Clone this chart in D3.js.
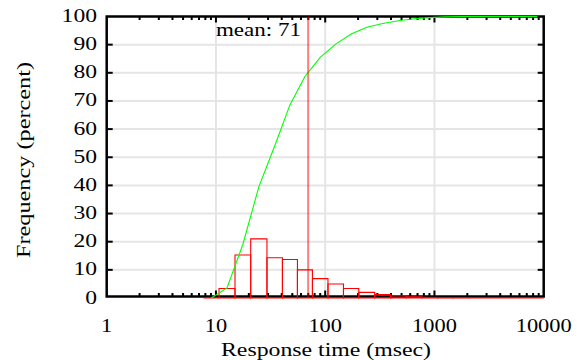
<!DOCTYPE html>
<html><head><meta charset="utf-8">
<script src="https://cdn.jsdelivr.net/npm/d3@7"></script>
<style>
body{margin:0;background:#fff}
svg{display:block}
text{font-family:"Liberation Serif","DejaVu Serif","Noto Serif","Times New Roman",serif;fill:#000}
</style>
</head><body>
<svg id="chart" width="582" height="360"></svg>
<script>
// ---- data ----
const binEdges = [7.7, 10.67, 14.94, 20.8, 29.3, 40.6, 55.7, 76.4, 106, 147, 203, 284, 398, 553, 768, 1067, 1483, 2060, 2862, 3977, 5525, 7677, 10000];
const histPercent = [0, 3.4, 15.3, 21.0, 14.3, 13.7, 10.0, 6.9, 5.0, 3.4, 2.0, 1.2, 0.7, 0.4, 0.2, 0.1, 0.1, 0, 0, 0, 0, 0];
const cdfPercent = [0, 3.6, 19, 39.5, 54, 68.6, 78.7, 85.5, 90.2, 93.8, 96.2, 97.5, 98.5, 99.2, 99.6, 99.85, 100, 100, 100, 100, 100, 100];
const xTickValues = [1, 10, 100, 1000, 10000];
const xTickLabels = ["1", "10", "100", "1000", "10000"];
const yTickValues = [0, 10, 20, 30, 40, 50, 60, 70, 80, 90, 100];
const yTickLabels = ["0", "10", "20", "30", "40", "50", "60", "70", "80", "90", "100"];
const meanValue = 71;
const meanLabel = "mean: 71";
const xTitle = "Response time (msec)";
const yTitle = "Frequency (percent)";

// ---- drawing ----
const svg = d3.select("#chart");
const L = 106.7, R = 543.7, T = 16.5, B = 298;
const x = d3.scaleLog().domain([1, 10000]).range([L, R]);
const y = d3.scaleLinear().domain([0, 100]).range([B, T]);
const frameBottom = 296.5;

// grid
const grid = svg.append("g").attr("stroke", "#e5e5e5").attr("stroke-width", 2);
grid.selectAll("line.gx").data(xTickValues.slice(1, -1)).join("line")
  .attr("x1", d => x(d)).attr("x2", d => x(d)).attr("y1", T).attr("y2", frameBottom);
grid.selectAll("line.gy").data(yTickValues.slice(1, -1)).join("line")
  .attr("x1", L).attr("x2", R).attr("y1", d => y(d)).attr("y2", d => y(d));

// frame + ticks
const fr = svg.append("g").attr("stroke", "#000").attr("fill", "none");
fr.append("rect").attr("x", L).attr("y", T).attr("width", R - L).attr("height", frameBottom - T).attr("stroke-width", 2.5);
const allX = x.ticks().filter(d => d > 1 && d < 10000);
const isMajor = d => Math.abs(Math.log10(d) - Math.round(Math.log10(d))) < 1e-9;
allX.forEach(d => {
  const len = isMajor(d) ? 6 : 3.5;
  fr.append("line").attr("x1", x(d)).attr("x2", x(d)).attr("y1", T).attr("y2", T + len).attr("stroke-width", 2);
  fr.append("line").attr("x1", x(d)).attr("x2", x(d)).attr("y1", frameBottom).attr("y2", frameBottom - len).attr("stroke-width", 2);
});
yTickValues.slice(1, -1).forEach(d => {
  fr.append("line").attr("x1", L).attr("x2", L + 6).attr("y1", y(d)).attr("y2", y(d)).attr("stroke-width", 2);
  fr.append("line").attr("x1", R).attr("x2", R - 6).attr("y1", y(d)).attr("y2", y(d)).attr("stroke-width", 2);
});

// histogram bars
const bins = histPercent.map((v, i) => ({x0: binEdges[i], x1: binEdges[i + 1], v}));
svg.append("g").selectAll("path").data(bins).join("path")
  .attr("d", d => `M${x(d.x0)},${y(0)}V${y(d.v)}H${x(d.x1)}V${y(0)}Z`)
  .attr("fill", "none").attr("stroke", "#ff0000").attr("stroke-width", 1.1);

// cumulative curve at bin centres
const cdfPts = cdfPercent.map((v, i) => [Math.sqrt(binEdges[i] * binEdges[i + 1]), v]);
svg.append("path").datum(cdfPts)
  .attr("d", d3.line().x(d => x(d[0])).y(d => y(d[1])))
  .attr("fill", "none").attr("stroke", "#00ff00").attr("stroke-width", 1.1);

// mean line
svg.append("line").attr("x1", x(meanValue) - 0.8).attr("x2", x(meanValue) - 0.8).attr("y1", y(0)).attr("y2", y(100))
  .attr("stroke", "#ff0000").attr("stroke-opacity", 0.5).attr("stroke-width", 2);

// texts (widths fitted to the reference)
const fs = 18;
function txt(label, anchor, transform, width) {
  return svg.append("text").attr("text-anchor", anchor).attr("font-size", fs)
    .attr("transform", transform).attr("textLength", width)
    .attr("lengthAdjust", "spacingAndGlyphs").text(label);
}
txt(meanLabel, "end", `translate(${x(meanValue) - 8},36)`, 85);
xTickValues.forEach((d, i) => txt(xTickLabels[i], "middle", `translate(${x(d)},332)`, 11.2 * xTickLabels[i].length));
yTickValues.forEach((d, i) => txt(yTickLabels[i], "end", `translate(97,${y(d) + 5.5})`, 11.8 * yTickLabels[i].length));
txt(xTitle, "middle", `translate(326,356)`, 210);
txt(yTitle, "middle", `translate(30,160) rotate(-90)`, 196);
</script>
</body></html>
